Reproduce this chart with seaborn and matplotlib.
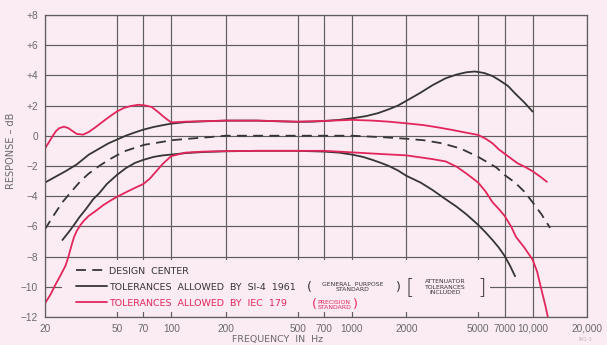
import matplotlib
matplotlib.use("Agg")
import matplotlib.pyplot as plt
from matplotlib.patches import Rectangle
from matplotlib.ticker import FixedLocator, FixedFormatter, NullLocator
import pandas as pd
import seaborn as sns

# ---------------- data ----------------
design_freq = [20, 22, 25, 28, 31.5, 35, 40, 45, 50, 56, 63, 71, 80, 90, 100, 125, 160, 200,
               300, 500, 1000, 1500, 2000, 2500, 3150, 4000, 5000, 6300, 7000, 8000, 9000,
               10000, 11200, 12500]
design_db = [-6.2, -5.4, -4.4, -3.7, -3.0, -2.5, -2.0, -1.6, -1.3, -1.0, -0.8, -0.6, -0.5, -0.4,
             -0.3, -0.2, -0.1, 0.0, 0.0, 0.0, 0.0, -0.1, -0.2, -0.3, -0.5, -0.85, -1.4, -2.1,
             -2.6, -3.1, -3.7, -4.4, -5.2, -6.1]

si4_upper_freq = [20, 23, 26, 30, 35, 40, 45, 50, 56, 63, 70, 80, 90, 100, 120, 150, 200, 300,
                  400, 500, 600, 700, 850, 1000, 1200, 1400, 1600, 1800, 2100, 2400, 2800, 3300,
                  3800, 4300, 4800, 5400, 6000, 6500, 7300, 8000, 9000, 10000]
si4_upper_db = [-3.1, -2.7, -2.35, -1.9, -1.25, -0.85, -0.5, -0.26, 0.0, 0.22, 0.4, 0.58, 0.7,
                0.8, 0.9, 0.95, 1.0, 1.0, 0.95, 0.92, 0.93, 0.97, 1.05, 1.15, 1.3, 1.5, 1.75,
                2.0, 2.45, 2.85, 3.35, 3.8, 4.05, 4.2, 4.25, 4.15, 3.95, 3.7, 3.3, 2.8, 2.2, 1.6]

si4_lower_freq = [25, 27, 29, 31, 34, 37, 40, 44, 50, 56, 63, 70, 80, 90, 100, 120, 150, 200,
                  300, 500, 700, 850, 1000, 1150, 1300, 1450, 1600, 1800, 2000, 2400, 2800,
                  3300, 3800, 4300, 5000, 5500, 6000, 6500, 7000, 7500, 8000]
si4_lower_db = [-6.9, -6.4, -5.9, -5.4, -4.8, -4.2, -3.8, -3.2, -2.6, -2.15, -1.8, -1.6, -1.4,
                -1.3, -1.25, -1.15, -1.08, -1.03, -1.0, -1.0, -1.05, -1.12, -1.25, -1.4, -1.6,
                -1.8, -2.0, -2.3, -2.65, -3.1, -3.6, -4.2, -4.7, -5.2, -5.9, -6.4, -6.9, -7.4,
                -7.95, -8.6, -9.3]

iec_upper_freq = [20, 21, 22, 23, 24, 25.5, 27, 28.5, 30, 32.5, 35, 38, 42, 46, 50, 55, 60, 66,
                  72, 78, 85, 92, 100, 120, 150, 200, 300, 500, 700, 1000, 1300, 1600, 2000,
                  2500, 3000, 3600, 4300, 5000, 5500, 6000, 6500, 7300, 8200, 9200, 10000,
                  11000, 12000]
iec_upper_db = [-0.85, -0.45, -0.05, 0.3, 0.5, 0.6, 0.5, 0.3, 0.12, 0.07, 0.25, 0.55, 0.95, 1.3,
                1.6, 1.85, 1.97, 2.05, 2.0, 1.9, 1.55, 1.2, 0.88, 0.93, 0.96, 1.0, 1.0, 0.93,
                0.98, 1.05, 1.0, 0.93, 0.82, 0.7, 0.55, 0.38, 0.2, 0.05, -0.2, -0.5, -0.9,
                -1.35, -1.8, -2.1, -2.35, -2.7, -3.05]

iec_lower_freq = [20, 21.5, 23, 24.5, 26, 27, 28, 29, 30, 31.5, 33, 35, 38, 42, 46, 50, 56, 63,
                  70, 76, 82, 90, 100, 120, 150, 200, 300, 500, 700, 1000, 1400, 2000, 2800,
                  3300, 3800, 4300, 5000, 5500, 6000, 6500, 7000, 7600, 8100, 9000, 10000,
                  10600, 11200, 11800, 12300]
iec_lower_db = [-11.1, -10.5, -9.8, -9.2, -8.6, -8.0, -7.3, -6.7, -6.3, -5.9, -5.6, -5.3, -5.0,
                -4.6, -4.3, -4.05, -3.75, -3.45, -3.2, -2.85, -2.4, -1.85, -1.35, -1.12, -1.05,
                -1.02, -1.0, -1.0, -1.0, -1.1, -1.2, -1.3, -1.55, -1.7, -2.05, -2.5, -3.1,
                -3.7, -4.4, -4.85, -5.3, -6.0, -6.7, -7.4, -8.2, -9.0, -10.2, -11.3, -12.3]

x_ticks = [20, 50, 70, 100, 200, 500, 700, 1000, 2000, 5000, 7000, 10000, 20000]
x_tick_labels = ["20", "50", "70", "100", "200", "500", "700", "1000", "2000", "5000", "7000",
                 "10,000", "20,000"]
y_ticks = [-12, -10, -8, -6, -4, -2, 0, 2, 4, 6, 8]
y_tick_labels = ["\u221212", "\u221210", "\u22128", "\u22126", "\u22124", "\u22122", "0",
                 "+2", "+4", "+6", "+8"]

legend_labels = ["DESIGN  CENTER",
                 "TOLERANCES  ALLOWED  BY  SI-4  1961",
                 "TOLERANCES  ALLOWED  BY  IEC  179"]
x_label = "FREQUENCY  IN  Hz"
y_label = "RESPONSE \u2013 dB"

# ---------------- style ----------------
BG = "#fbebf2"
DARK = "#353535"
RED = "#e2265c"
GRID = "#5e5e5e"
TXT = "#6a6a6a"

sns.set_theme(style="white")
plt.rcParams["font.family"] = ["DejaVu Sans"]

fig, ax = plt.subplots(figsize=(6.07, 3.45), dpi=100)
fig.patch.set_facecolor(BG)
ax.set_facecolor(BG)
fig.subplots_adjust(left=0.074, right=0.967, top=0.957, bottom=0.081)

def frame(f, d):
    return pd.DataFrame({"freq": f, "db": d})

lw = 1.3
sns.lineplot(data=frame(design_freq, design_db), x="freq", y="db", ax=ax, color=DARK,
             linewidth=lw, linestyle=(0, (5.5, 3.5)), label=legend_labels[0], estimator=None)
sns.lineplot(data=frame(si4_upper_freq, si4_upper_db), x="freq", y="db", ax=ax, color=DARK,
             linewidth=lw, label=legend_labels[1], estimator=None)
sns.lineplot(data=frame(si4_lower_freq, si4_lower_db), x="freq", y="db", ax=ax, color=DARK,
             linewidth=lw, label="_nolegend_", estimator=None)
sns.lineplot(data=frame(iec_upper_freq, iec_upper_db), x="freq", y="db", ax=ax, color=RED,
             linewidth=lw, label=legend_labels[2], estimator=None)
sns.lineplot(data=frame(iec_lower_freq, iec_lower_db), x="freq", y="db", ax=ax, color=RED,
             linewidth=lw, label="_nolegend_", estimator=None)

ax.set_xscale("log")
ax.set_xlim(20, 20000)
ax.set_ylim(-12, 8)
ax.xaxis.set_major_locator(FixedLocator(x_ticks))
ax.xaxis.set_major_formatter(FixedFormatter(x_tick_labels))
ax.xaxis.set_minor_locator(NullLocator())
ax.yaxis.set_major_locator(FixedLocator(y_ticks))
ax.yaxis.set_major_formatter(FixedFormatter(y_tick_labels))

ax.set_axisbelow(True)
ax.grid(True, color=GRID, linewidth=0.85)
for s in ax.spines.values():
    s.set_visible(True)
    s.set_color(GRID)
    s.set_linewidth(0.9)
ax.tick_params(axis="both", which="major", length=3, width=0.8, color=GRID,
               labelsize=7.3, labelcolor=TXT, pad=2)
for lab in ax.get_xticklabels() + ax.get_yticklabels():
    lab.set_fontfamily(["Liberation Sans", "DejaVu Sans"])

ax.set_xlabel(x_label, fontsize=6.8, color=TXT)
ax.xaxis.set_label_coords(0.43, -0.06)
ax.set_ylabel(y_label, fontsize=7, color=TXT)
ax.yaxis.set_label_coords(-0.054, 0.55)

# background panel behind legend (hides grid)
ax.add_patch(Rectangle((0.031, 0.017), 0.79, 0.172, transform=ax.transAxes,
                       facecolor=BG, edgecolor="none", zorder=1.5))

handles, labels = ax.get_legend_handles_labels()
leg = ax.legend(handles, labels, loc="center left", bbox_to_anchor=(0.057, 0.099),
                frameon=False, fontsize=6.8, handlelength=3.3, handletextpad=0.25,
                labelspacing=0.75, borderpad=0, borderaxespad=0)
leg.set_zorder(3)
for t in leg.get_texts():
    t.set_color(DARK)
leg.get_texts()[2].set_color(RED)

row2 = 0.099
row3 = 0.040
small = 4.4
ax.text(0.487, row2, "(", fontsize=9, ha="center", va="center", color=DARK,
        transform=ax.transAxes, zorder=3)
ax.text(0.568, row2, "GENERAL  PURPOSE\nSTANDARD", fontsize=small, ha="center", va="center",
        color=DARK, linespacing=1.05, transform=ax.transAxes, zorder=3)
ax.text(0.652, row2, ")", fontsize=9, ha="center", va="center", color=DARK,
        transform=ax.transAxes, zorder=3)
ax.text(0.673, row2, "[", fontsize=16, ha="center", va="center", color=DARK,
        fontweight="light", transform=ax.transAxes, zorder=3)
ax.text(0.738, row2, "ATTENUATOR\nTOLERANCES\nINCLUDED", fontsize=small, ha="center",
        va="center", color=DARK, linespacing=1.05, transform=ax.transAxes, zorder=3)
ax.text(0.806, row2, "]", fontsize=16, ha="center", va="center", color=DARK,
        fontweight="light", transform=ax.transAxes, zorder=3)

ax.text(0.497, row3, "(", fontsize=9, ha="center", va="center", color=RED,
        transform=ax.transAxes, zorder=3)
ax.text(0.534, row3, "PRECISION\nSTANDARD", fontsize=small, ha="center", va="center",
        color=RED, linespacing=1.05, transform=ax.transAxes, zorder=3)
ax.text(0.572, row3, ")", fontsize=9, ha="center", va="center", color=RED,
        transform=ax.transAxes, zorder=3)

fig.text(0.975, 0.01, "IM1-3", fontsize=3.5, color="#c4b4bc", ha="right", va="bottom")

fig.savefig("out.png", dpi=100, facecolor=BG)
